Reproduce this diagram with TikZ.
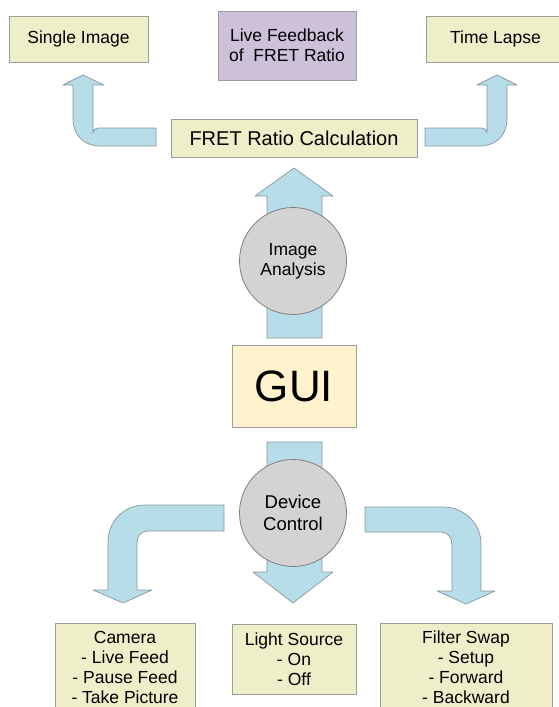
\documentclass[tikz,border=0pt]{standalone}
\usepackage{fontspec}
\setmainfont{Liberation Sans}
\definecolor{panelfill}{RGB}{238,239,201}
\definecolor{panelline}{RGB}{158,158,158}
\definecolor{lilac}{RGB}{205,193,218}
\definecolor{guifill}{RGB}{255,242,204}
\definecolor{discfill}{RGB}{211,211,211}
\definecolor{discline}{RGB}{128,128,128}
\definecolor{flowfill}{RGB}{183,221,232}
\definecolor{flowline}{RGB}{135,150,158}
\begin{document}
\begin{tikzpicture}[x=1pt,y=-1pt,
  panel/.style={draw=panelline, fill=panelfill, line width=0.8pt, inner sep=0pt,
    align=center, font=\fontsize{17.5}{20}\selectfont},
  disc/.style={circle, draw=discline, fill=discfill, line width=0.8pt, inner sep=0pt,
    minimum size=107pt, align=center},
  flow/.style={draw=flowline, fill=flowfill, line width=0.7pt, line join=round}]
\useasboundingbox (0,0) rectangle (558,707);

% block arrows, drawn first so the discs sit on top of them
\path[flow] (267,338) -- (267,196) -- (255,196) -- (294,168) -- (333,196)
  -- (322,196) -- (322,338) -- cycle;
\path[flow] (156,146) -- (100,146) .. controls (84,146) and (73,135) .. (73,119)
  -- (73,85) -- (63,85) -- (83,75) -- (104,85) -- (93,85) -- (93,133)
  .. controls (93,130) and (95,128) .. (98,128) -- (156,128) -- cycle;
\path[flow] (425,146) -- (480,146) .. controls (496,146) and (507,135) .. (507,119)
  -- (507,85) -- (517,85) -- (497,75) -- (477,85) -- (487,85) -- (487,133)
  .. controls (487,130) and (485,128) .. (482,128) -- (425,128) -- cycle;
\path[flow] (267,442) -- (267,572) -- (253,572) -- (293,603) -- (333,572)
  -- (322,572) -- (322,442) -- cycle;
\path[flow] (224,505) -- (145,505) .. controls (124,505) and (108,521) .. (108,542)
  -- (108,590) -- (93,590) -- (123,603) -- (152,590) -- (137,590) -- (137,543)
  .. controls (137,536) and (141,531) .. (148,531) -- (224,531) -- cycle;
\path[flow] (365,507) -- (443,507) .. controls (464,507) and (481,523) .. (481,544)
  -- (481,591) -- (495,591) -- (466,604) -- (437,591) -- (452,591) -- (452,545)
  .. controls (452,538) and (448,532) .. (441,532) -- (365,532) -- cycle;

% top row
\node[panel, minimum width=139pt, minimum height=46pt] (single) at (78.5,39) {Single Image};
\node[panel, fill=lilac, minimum width=138pt, minimum height=69pt] (live) at (287,45.5)
  {Live Feedback\\of\ \ FRET Ratio};
\node[panel, minimum width=139pt, minimum height=46pt] (lapse) at (495.5,39) {Time Lapse};
\node[panel, minimum width=246pt, minimum height=38pt,
  font=\fontsize{20}{24}\selectfont] (fret) at (294,138) {FRET Ratio Calculation};

% centre column
\node[disc, font=\fontsize{17.5}{20}\selectfont] (analysis) at (293,261) {Image\\Analysis};
\node[panel, fill=guifill, minimum width=124pt, minimum height=82pt,
  font=\fontsize{44}{50}\selectfont] (gui) at (294,386) {GUI};
\node[disc, font=\fontsize{18.5}{22}\selectfont] (device) at (293,513) {Device\\Control};

% bottom row
\node[panel, minimum width=140pt, minimum height=88pt] (camera) at (125,667)
  {Camera\\- Live Feed\\- Pause Feed\\- Take Picture};
\node[panel, minimum width=124pt, minimum height=70pt] (light) at (294,659)
  {Light Source\\- On\\- Off};
\node[panel, minimum width=172pt, minimum height=88pt] (filter) at (466,667)
  {Filter Swap\\- Setup\\- Forward\\- Backward};
\end{tikzpicture}
\end{document}
